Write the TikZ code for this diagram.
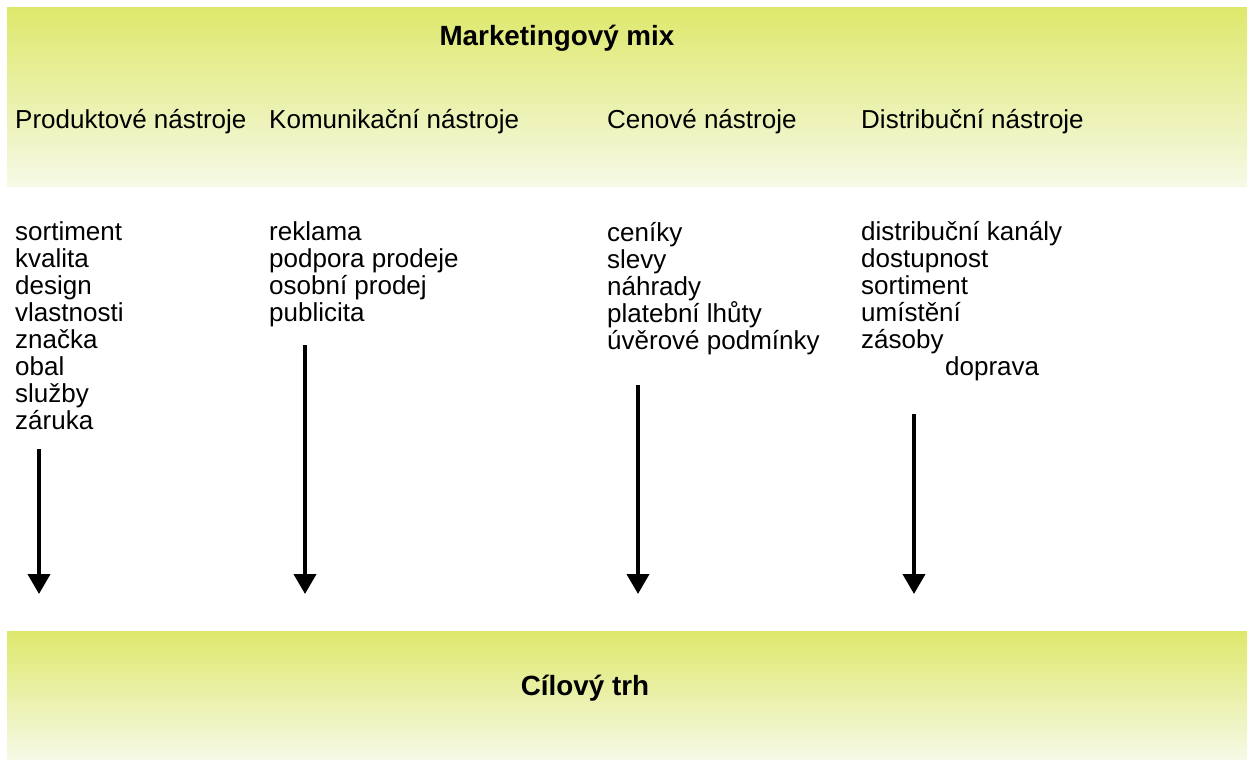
\documentclass[tikz,border=0pt]{standalone}
\usepackage{fontspec}
\setmainfont{Liberation Sans}
\usetikzlibrary{arrows.meta}
\definecolor{bandtop}{RGB}{222,232,108}
\definecolor{bandbot}{RGB}{246,249,230}
\tikzset{
  item/.style={anchor=base west, inner sep=0pt, font=\fontsize{26bp}{28bp}\selectfont},
  head/.style={item},
  title/.style={anchor=base, inner sep=0pt, font=\fontsize{27.8bp}{30bp}\selectfont\bfseries},
  band/.style={top color=bandtop, bottom color=bandbot, draw=none},
  flow/.style={line width=4bp, -{Triangle[width=22bp,length=20bp]}}
}
\begin{document}
\begin{tikzpicture}[x=1bp,y=-1bp]
\useasboundingbox (0,0) rectangle (1254,760);
\fill[white] (0,0) rectangle (1254,760);
% bands
\shade[band] (7,8) rectangle (1247,186);
\shade[band] (7,631) rectangle (1247,759);
% titles
\node[title] (mix) at (557,46) {Marketingový mix};
\node[title] (trh) at (585,695) {Cílový trh};
% headers
\node[head] (h1) at (15,128) {Produktové nástroje};
\node[head] (h2) at (269,128) {Komunikační nástroje};
\node[head] (h3) at (607,128) {Cenové nástroje};
\node[head] (h4) at (861,128) {Distribuční nástroje};
% column 1
\foreach \t [count=\i] in {sortiment,kvalita,design,vlastnosti,značka,obal,služby,záruka}
  \node[item] (p\i) at (15,{240+27*(\i-1)}) {\t};
% column 2
\foreach \t [count=\i] in {reklama,podpora prodeje,osobní prodej,publicita}
  \node[item] (k\i) at (269,{240+27*(\i-1)}) {\t};
% column 3
\foreach \t [count=\i] in {ceníky,slevy,náhrady,platební lhůty,úvěrové podmínky}
  \node[item] (c\i) at (607,{241+27*(\i-1)}) {\t};
% column 4
\foreach \t [count=\i] in {distribuční kanály,dostupnost,sortiment,umístění,zásoby}
  \node[item] (d\i) at (861,{240+27*(\i-1)}) {\t};
\node[item] (d6) at (945,375) {doprava};
% arrows
\coordinate (a1s) at (39,449);  \coordinate (a1e) at (39,594);
\coordinate (a2s) at (305,345); \coordinate (a2e) at (305,594);
\coordinate (a3s) at (638,385); \coordinate (a3e) at (638,594);
\coordinate (a4s) at (914,414); \coordinate (a4e) at (914,594);
\draw[flow] (a1s) -- (a1e);
\draw[flow] (a2s) -- (a2e);
\draw[flow] (a3s) -- (a3e);
\draw[flow] (a4s) -- (a4e);
\end{tikzpicture}
\end{document}
